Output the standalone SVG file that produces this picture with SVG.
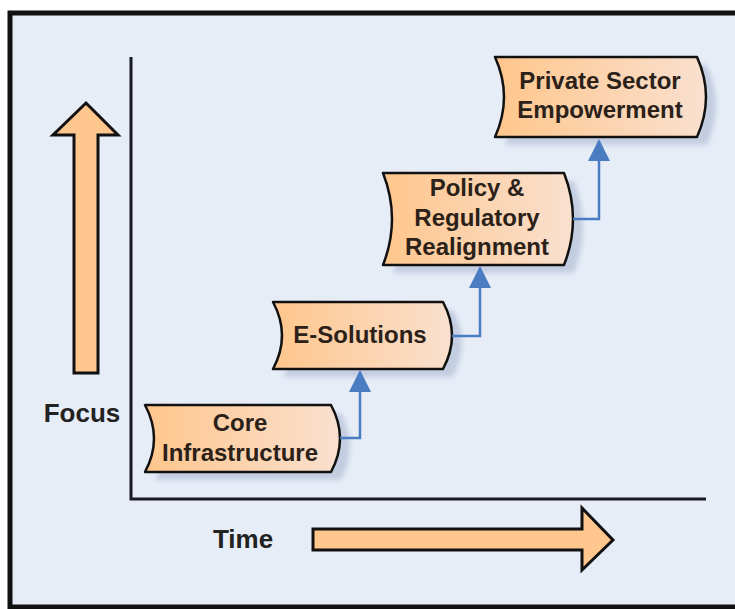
<svg xmlns="http://www.w3.org/2000/svg" width="735" height="609" viewBox="0 0 735 609">
  <defs>
    <linearGradient id="boxFill" x1="0" y1="0" x2="1" y2="0">
      <stop offset="0" stop-color="#FFC68C"/>
      <stop offset="1" stop-color="#F9E0CF"/>
    </linearGradient>
    <filter id="blur" x="-10%" y="-20%" width="120%" height="140%">
      <feGaussianBlur stdDeviation="2.5"/>
    </filter>
    <marker id="arr" viewBox="0 0 22 22" refX="20" refY="11" markerWidth="22" markerHeight="22" markerUnits="userSpaceOnUse" orient="auto">
      <path d="M0,0 L22,11 L0,22 Z" fill="#4A7CC2"/>
    </marker>
    <style>
      .box { fill: url(#boxFill); stroke: #111; stroke-width: 2.5; stroke-linejoin: round; }
      .shadow { fill: #C3CDE0; filter: url(#blur); }
      .lbl { font-family: "Liberation Sans", Arial, sans-serif; font-weight: bold; font-size: 24px; fill: #2B2118; text-anchor: middle; }
      .axlbl { font-family: "Liberation Sans", Arial, sans-serif; font-weight: bold; font-size: 26px; fill: #222; text-anchor: middle; }
      .big { fill: #FFC68E; stroke: #111; stroke-width: 3; stroke-linejoin: miter; }
      .conn { fill: none; stroke: #4A7CC2; stroke-width: 2.5; marker-end: url(#arr); }
      .axis { stroke: #1A1A26; stroke-width: 3; fill: none; }
    </style>
  </defs>

  <rect x="0" y="0" width="735" height="609" fill="#FFFFFF"/>
  <rect x="10" y="13" width="740" height="594" fill="#E7EDF7" stroke="#111" stroke-width="5"/>

  <g id="axes">
    <path class="axis" d="M131,57 V499 H706"/>
  </g>

  <g id="focus-arrow">
    <path class="big" d="M74,373 V135 H53 L86,103 L118,135 H98 V373 Z"/>
    <text class="axlbl" x="82" y="422">Focus</text>
  </g>

  <g id="time-arrow">
    <path class="big" d="M313,529 H582 V508 L613,540 L582,570 V550 H313 Z"/>
    <text class="axlbl" x="243" y="548">Time</text>
  </g>

  <g id="core">
    <path class="shadow" d="M155,413 H341 Q359,446.5 341,480 H155 Q173,446.5 155,413 Z"/>
    <path class="box" d="M145,405 H331 Q349,438.5 331,472 H145 Q163,438.5 145,405 Z"/>
    <text class="lbl" x="240" y="431">Core</text>
    <text class="lbl" x="240" y="461">Infrastructure</text>
  </g>

  <g id="esolutions">
    <path class="shadow" d="M283,310 H453 Q471,343.5 453,377 H283 Q301,343.5 283,310 Z"/>
    <path class="box" d="M273,302 H443 Q461,335.5 443,369 H273 Q291,335.5 273,302 Z"/>
    <text class="lbl" x="360" y="343">E-Solutions</text>
  </g>

  <g id="policy">
    <path class="shadow" d="M393,181 H574 Q592,227 574,273 H393 Q411,227 393,181 Z"/>
    <path class="box" d="M383,173 H564 Q582,219 564,265 H383 Q401,219 383,173 Z"/>
    <text class="lbl" x="477" y="196">Policy &amp;</text>
    <text class="lbl" x="477" y="226">Regulatory</text>
    <text class="lbl" x="477" y="255">Realignment</text>
  </g>

  <g id="private">
    <path class="shadow" d="M505,65 H707 Q725,105 707,145 H505 Q523,105 505,65 Z"/>
    <path class="box" d="M495,57 H697 Q715,97 697,137 H495 Q513,97 495,57 Z"/>
    <text class="lbl" x="600" y="89">Private Sector</text>
    <text class="lbl" x="600" y="118">Empowerment</text>
  </g>

  <g id="connectors">
    <path class="conn" d="M340,438 H360 V372"/>
    <path class="conn" d="M452,336 H480 V268"/>
    <path class="conn" d="M573,219 H599 V141"/>
  </g>
</svg>
